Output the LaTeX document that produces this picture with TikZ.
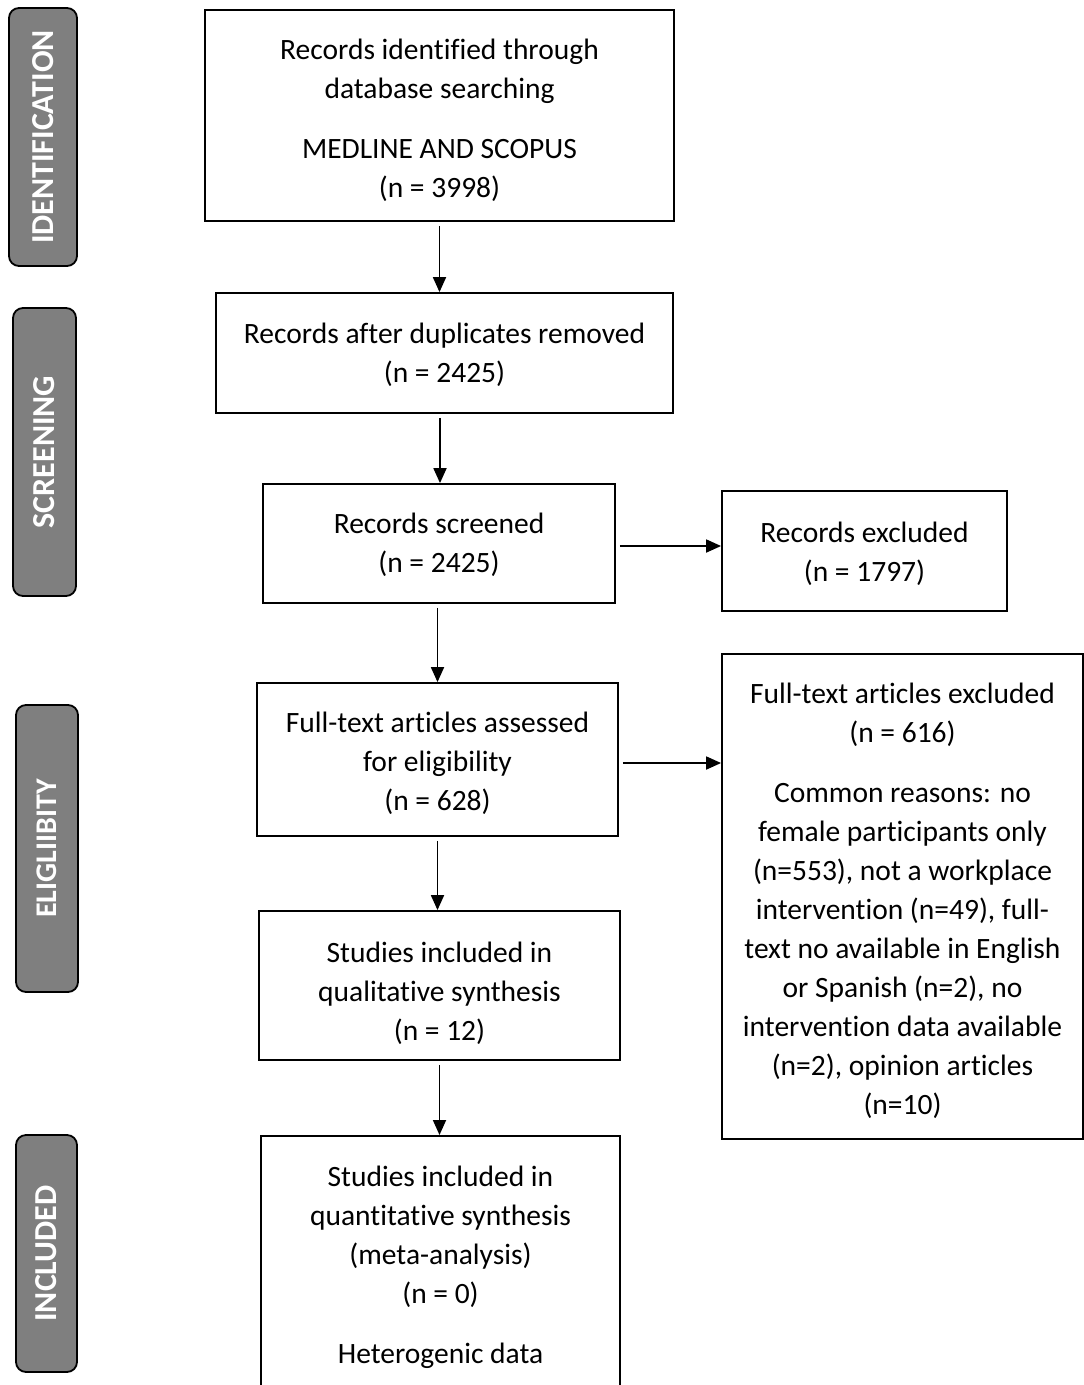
\documentclass[tikz,border=0pt]{standalone}
\usepackage{fontspec}
\setmainfont{Carlito}[Ligatures=CommonOff]
\usetikzlibrary{arrows.meta}
\definecolor{sidegray}{HTML}{7F7F7F}
\newcommand\lowr[1]{\rule{0pt}{\dimexpr 22pt+#1pt*2\relax}}
\begin{document}
\begin{tikzpicture}[x=1pt,y=-1pt,
  box/.style={draw=black, line width=1.8pt, align=center, inner sep=0pt,
    font=\fontsize{29.5}{39}\selectfont},
  txt/.style={align=center, inner sep=0pt, font=\fontsize{29.5}{39}\selectfont},
  side/.style={draw=black, line width=1.8pt, fill=sidegray, rounded corners=10pt,
    text=white, inner sep=0pt, font=\bfseries\fontsize{32}{36}\selectfont},
  arr/.style={line width=1.8pt, -{Triangle[length=15pt,width=13pt]}, shorten <=4pt}]
\useasboundingbox (0,0) rectangle (1084,1385);
\clip (0,0) rectangle (1084,1385);
% side labels
\node[side, minimum width=68pt, minimum height=258pt] (sid) at (43,137) {\rotatebox{90}{IDENTIFICATION}};
\node[side, minimum width=63pt, minimum height=288pt] (sscr) at (44.5,452) {\rotatebox{90}{SCREENING}};
\node[side, minimum width=62pt, minimum height=287pt] (seli) at (47,848.5) {\rotatebox{90}{\fontsize{30}{34}\selectfont ELIGLIIBITY}};
\node[side, minimum width=61pt, minimum height=237pt] (sinc) at (46.5,1253.5) {\rotatebox{90}{INCLUDED}};
% boxes
\node[box, minimum width=469pt, minimum height=211pt] (b1) at (439.5,115.5)
  {\lowr{4}Records identified through\\ database searching\\[21pt] MEDLINE AND SCOPUS\\ (n = 3998)};
\node[box, minimum width=457pt, minimum height=120pt] (b2) at (444.5,353)
  {\lowr{1}Records after duplicates removed\\ (n = 2425)};
\node[box, minimum width=352pt, minimum height=119pt] (b3) at (439,543.5)
  {\lowr{1}Records screened\\ (n = 2425)};
\node[box, minimum width=285pt, minimum height=120pt] (b4) at (864.5,551)
  {\lowr{2}Records excluded\\ (n = 1797)};
\node[box, minimum width=361pt, minimum height=153pt] (b5) at (437.5,759.5)
  {\lowr{3}Full-text articles assessed\\ for eligibility\\ (n = 628)};
\node[box, minimum width=361pt, minimum height=485pt] (b6) at (902.5,896.5)
  {\lowr{4}Full-text articles excluded\\ (n = 616)\\[21pt]
   Common reasons: no\\ female participants only\\ (n=553), not a workplace\\
   intervention (n=49), full-\\ text no available in English\\ or Spanish (n=2), no\\
   intervention data available\\ (n=2), opinion articles\\ (n=10)};
\node[box, minimum width=361pt, minimum height=149pt] (b7) at (439.5,985.5)
  {\lowr{7}Studies included in\\ qualitative synthesis\\ (n = 12)};
\node[box, minimum width=359pt, minimum height=300pt, anchor=north] (b8) at (440.5,1135) {};
\node[txt] (t8) at (440.5,1267)
  {Studies included in\\ quantitative synthesis\\ (meta-analysis)\\ (n = 0)\\[21pt] Heterogenic data};
% connectors
\draw[arr] (b1.south) -- (b1.south |- b2.north);
\draw[arr] ([xshift=1pt]b2.south -| b3.north) -- ([xshift=1pt]b3.north);
\draw[arr] ([yshift=-2.5pt]b3.east) -- ([yshift=-2.5pt]b3.east -| b4.west);
\draw[arr] (b3.south -| b5.north) -- (b5.north);
\draw[arr] ([yshift=-3.5pt]b5.east) -- ([yshift=-3.5pt]b5.east -| b6.west);
\draw[arr] (b5.south) -- (b5.south |- b7.north);
\draw[arr] (b7.south) -- (b7.south |- b8.north);
\end{tikzpicture}
\end{document}
